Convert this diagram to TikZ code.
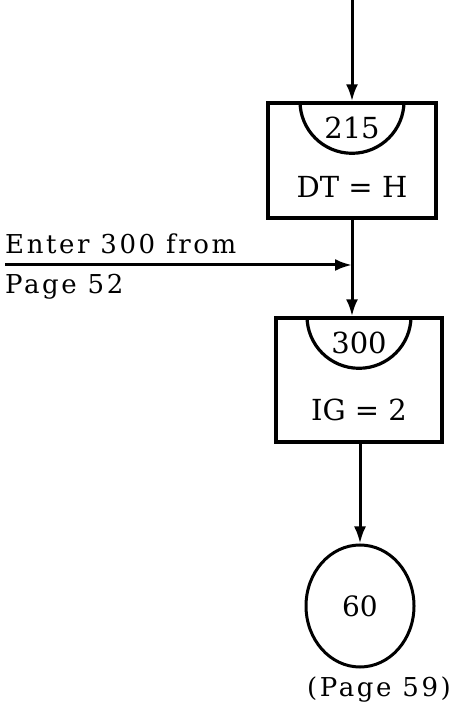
\documentclass[tikz,border=0pt]{standalone}
\usepackage{fontspec}
\setmainfont{DejaVu Serif}
\usetikzlibrary{arrows.meta, positioning, shapes.geometric}
\tikzset{
  flowbox/.style={draw, line width=3.4pt, minimum width=#1, inner sep=0pt},
  flowarrow/.style={line width=3pt, -{Latex[length=17pt,width=12pt]}},
  boxtext/.style={font=\fontsize{29}{32}\selectfont},
  sidetext/.style={font=\fontsize{26}{30}\selectfont\addfontfeature{LetterSpace=10}},
}
\begin{document}
\begin{tikzpicture}[x=1pt, y=1pt]
    \useasboundingbox (0,0) rectangle (451,717);
    % first box: 215
    \node[flowbox=168pt, minimum height=115pt] (b215) at (352,556.5) {};
    \draw[line width=3.2pt] ([xshift=-52pt]b215.north) arc[start angle=180, end angle=360, radius=52pt];
    \node[boxtext] (n215) at (352,589) {215};
    \node[boxtext] (t215) at (352,530) {DT = H};
    % second box: 300
    \node[flowbox=166pt, minimum height=124pt] (b300) at (359,337) {};
    \draw[line width=3.2pt] ([xshift=-52pt]b300.north) arc[start angle=180, end angle=360, radius=52pt];
    \node[boxtext] (n300) at (359,374) {300};
    \node[boxtext] (t300) at (359,307) {IG = 2};
    % connector circle
    \node[draw, ellipse, line width=3pt, minimum width=108pt, minimum height=122pt] (c60) at (360,111)
      {\fontsize{28}{32}\selectfont 60};
    \node[sidetext, anchor=center] (p59) at (379,27) {(Page 59)};
    % flow lines
    \coordinate (top) at (352,717);
    \draw[flowarrow] (top) -- (b215.north -| top);
    \coordinate (join) at (b215.south |- 0,452);
    \coordinate (enter) at (5,452);
    \draw[flowarrow] (b215.south) -- (b215.south |- b300.north);
    \draw[flowarrow] (enter) -- (join);
    \node[sidetext, anchor=south west, inner sep=0pt] (ent) at (5,463) {Enter 300 from};
    \node[sidetext, anchor=north west, inner sep=0pt] (pg) at (5,443) {Page 52};
    \draw[flowarrow] (b300.south -| c60) -- (c60.north);
\end{tikzpicture}
\end{document}
